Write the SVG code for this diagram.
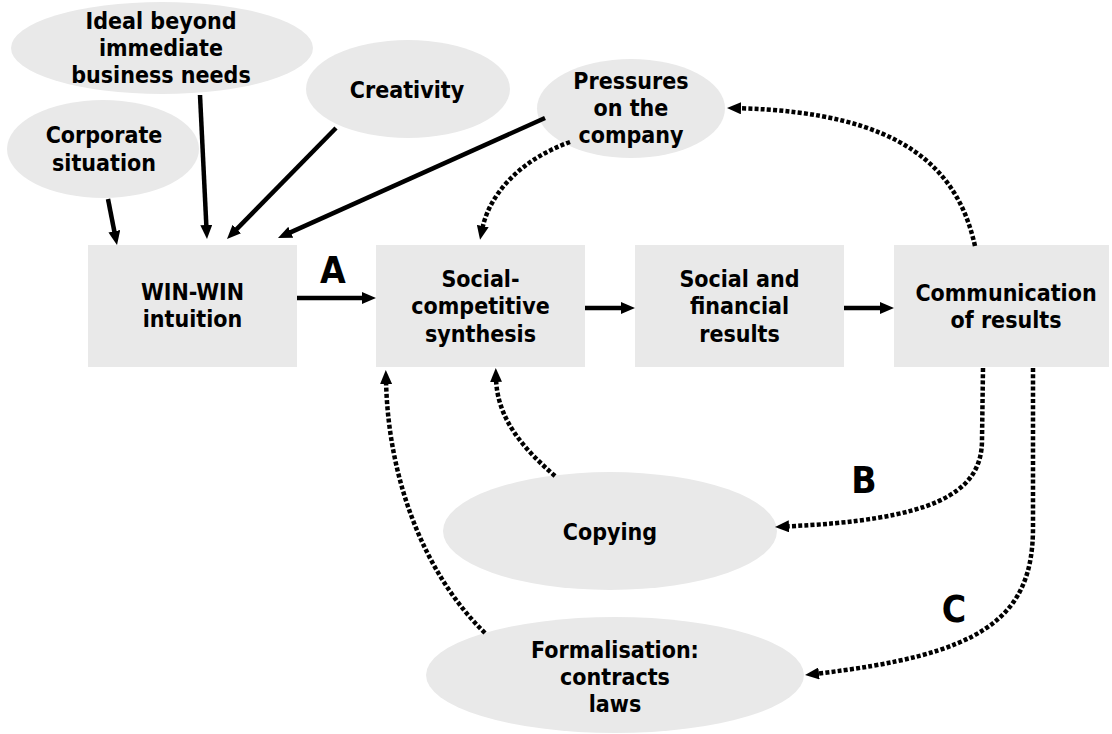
<svg xmlns="http://www.w3.org/2000/svg" width="1112" height="734" viewBox="0 0 1112 734">
<defs>
<style>
.n{fill:#e9e9e9;stroke:none}
text{font-family:"DejaVu Sans Condensed","DejaVu Sans",Verdana,sans-serif;font-weight:bold;font-size:23px;fill:#000;text-anchor:middle}
.big{font-size:37px}
.s{fill:none;stroke:#000;stroke-width:4.5}
.d{fill:none;stroke:#000;stroke-width:4.5;stroke-dasharray:4 2.2}
</style>
<marker id="ah" viewBox="0 0 14 12" markerWidth="14" markerHeight="12" refX="4" refY="6" orient="auto" markerUnits="userSpaceOnUse"><path d="M0,0 L14,6 L0,12 z" fill="#000"/></marker>
</defs>
<rect width="1112" height="734" fill="#fff"/>
<g id="ideal"><ellipse class="n" cx="162" cy="48" rx="151" ry="46"/><text x="161" y="29">Ideal beyond</text><text x="161" y="56">immediate</text><text x="161" y="83">business needs</text></g>
<g id="corporate"><ellipse class="n" cx="103" cy="149" rx="96" ry="49"/><text x="104" y="143">Corporate</text><text x="104" y="171">situation</text></g>
<g id="creativity"><ellipse class="n" cx="408" cy="89" rx="102" ry="49"/><text x="407" y="98">Creativity</text></g>
<g id="pressures"><ellipse class="n" cx="631" cy="108.5" rx="94" ry="49.5"/><text x="631" y="89">Pressures</text><text x="631" y="116">on the</text><text x="631" y="143">company</text></g>
<g id="winwin"><rect class="n" x="88" y="245" width="209" height="122"/><text x="192.5" y="300">WIN-WIN</text><text x="192.5" y="327">intuition</text></g>
<g id="synthesis"><rect class="n" x="376" y="245" width="209" height="122"/><text x="480.5" y="287">Social-</text><text x="480.5" y="314">competitive</text><text x="480.5" y="342">synthesis</text></g>
<g id="results"><rect class="n" x="635" y="245" width="209" height="122"/><text x="739.5" y="287">Social and</text><text x="739.5" y="314">financial</text><text x="739.5" y="342">results</text></g>
<g id="communication"><rect class="n" x="894" y="245" width="215" height="122"/><text x="1006" y="301">Communication</text><text x="1006" y="328">of results</text></g>
<g id="copying"><ellipse class="n" cx="610" cy="531" rx="167" ry="59"/><text x="610" y="540">Copying</text></g>
<g id="formalisation"><ellipse class="n" cx="615" cy="675" rx="189" ry="58"/><text x="615" y="658">Formalisation:</text><text x="615" y="685">contracts</text><text x="615" y="712">laws</text></g>
<g id="connectors">
<path class="s" marker-end="url(#ah)" d="M108,199 L115.1,235.2"/>
<path class="s" marker-end="url(#ah)" d="M200,95 L206.5,229"/>
<path class="s" marker-end="url(#ah)" d="M336,128 L234,231.9"/>
<path class="s" marker-end="url(#ah)" d="M545,118 L287.1,233.9"/>
<path class="s" marker-end="url(#ah)" d="M297,298 L366,298"/>
<path class="s" marker-end="url(#ah)" d="M585,308 L625,308"/>
<path class="s" marker-end="url(#ah)" d="M844,308 L884,308"/>
<path class="d" marker-end="url(#ah)" d="M570,142 C525,158 490,190 482,230"/>
<path class="d" marker-end="url(#ah)" d="M975,246 C958,170 905,112 737,108.2"/>
<path class="d" marker-end="url(#ah)" d="M555,476 C525,450 497,420 496,378"/>
<path class="d" marker-end="url(#ah)" d="M485,633 C425,575 388,480 386,380"/>
<path class="d" marker-end="url(#ah)" d="M983,368 L982,440 C982,495 930,520 785,526.5"/>
<path class="d" marker-end="url(#ah)" d="M1033,368 L1033,530 C1032,620 980,655 815,673.9"/>
</g>
<g id="labels"><text class="big" x="333" y="283">A</text><text class="big" x="864" y="493">B</text><text class="big" x="954" y="622">C</text></g>
</svg>
